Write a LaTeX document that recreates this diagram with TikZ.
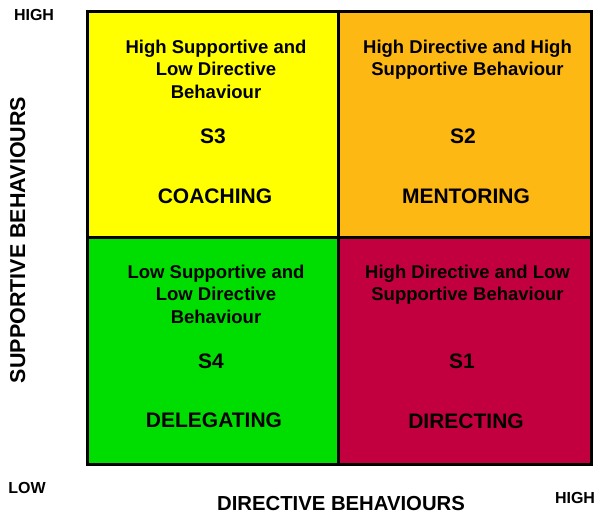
\documentclass[tikz,border=0pt]{standalone}
\usepackage{fontspec}
\setmainfont{Liberation Sans}
\definecolor{quadYellow}{HTML}{FFFF00}
\definecolor{quadOrange}{HTML}{FDB813}
\definecolor{quadGreen}{HTML}{00DD00}
\definecolor{quadRed}{HTML}{C3003F}
\tikzset{
  grid line/.style={line width=3pt, black},
  quad text/.style={font=\fontsize{18.5}{22.5}\selectfont\bfseries, align=center, anchor=base},
  quad big/.style={font=\fontsize{21}{24}\selectfont\bfseries, anchor=base},
  axis title/.style={font=\fontsize{20.3}{24}\selectfont\bfseries, anchor=base},
  axis end/.style={font=\fontsize{16}{18}\selectfont\bfseries, anchor=base},
}
\begin{document}
\begin{tikzpicture}[x=1pt,y=-1pt]
\useasboundingbox (0,0) rectangle (596,517);
% quadrant fills
\fill[quadYellow] (87,11) rectangle (338.5,237.5);
\fill[quadOrange] (338.5,11) rectangle (591,237.5);
\fill[quadGreen] (87,237.5) rectangle (338.5,464);
\fill[quadRed] (338.5,237.5) rectangle (591,464);
% frame and dividers
\coordinate (tl) at (87,11);
\coordinate (br) at (591,464);
\coordinate (mt) at (338.5,11);
\coordinate (mb) at (338.5,464);
\coordinate (ml) at (87,237.5);
\coordinate (mr) at (591,237.5);
\draw[grid line] (mt) -- (mb);
\draw[grid line] (ml) -- (mr);
\draw[grid line] (tl) rectangle (br);

% S3 coaching (base anchor sits on the last line)
\node[quad text] (s3d) at (216,98) {High Supportive and\\Low Directive\\Behaviour};
\node[quad big] (s3) at (213,143) {S3};
\node[quad big] (s3n) at (215,203) {COACHING};
% S2 mentoring
\node[quad text] (s2d) at (467.5,75.5) {High Directive and High\\Supportive Behaviour};
\node[quad big] (s2) at (463,143) {S2};
\node[quad big] (s2n) at (466,203) {MENTORING};
% S4 delegating
\node[quad text] (s4d) at (216,323) {Low Supportive and\\Low Directive\\Behaviour};
\node[quad big] (s4) at (211,368) {S4};
\node[quad big] (s4n) at (214,427) {DELEGATING};
% S1 directing
\node[quad text] (s1d) at (467.5,300.5) {High Directive and Low\\Supportive Behaviour};
\node[quad big] (s1) at (462,368) {S1};
\node[quad big] (s1n) at (466,428) {DIRECTING};

% axes
\node[axis end] (yhigh) at (34,20) {HIGH};
\node[axis end] (low) at (27,493) {LOW};
\node[axis end] (xhigh) at (575,503) {HIGH};
\node[axis title] (xtitle) at (341,510) {DIRECTIVE BEHAVIOURS};
\node[axis title, font=\fontsize{21.5}{24}\selectfont\bfseries, rotate=90] (ytitle) at (25,240) {SUPPORTIVE BEHAVIOURS};
\end{tikzpicture}
\end{document}
